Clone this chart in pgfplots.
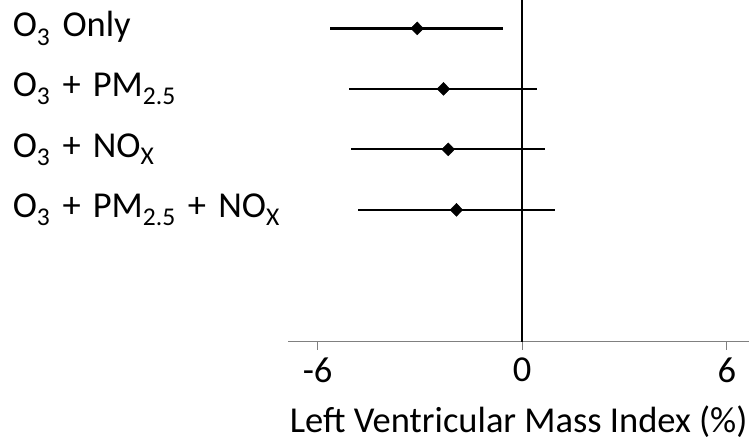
\documentclass[border=0pt]{standalone}
\usepackage{pgfplots}
\pgfplotsset{compat=1.18}
\usepackage{pgfplotstable}
\usepackage{fontspec}
\setmainfont{Carlito}

% row  est   lo    hi
\pgfplotstableread{
row est lo hi
4 -3.08 -5.63 -0.56
3 -2.31 -5.07 0.42
2 -2.17 -5.02 0.66
1 -1.93 -4.82 0.95
}\lvmi

\begin{document}
\begin{tikzpicture}
\begin{axis}[
  name=ax,
  scale only axis,
  width=460.7pt, height=341.7pt,
  xmin=-6.86, xmax=6.65,
  ymin=-1.18, ymax=4.47,
  axis x line*=bottom,
  axis y line*=left,
  y axis line style={draw=none},
  x axis line style={draw=gray, line width=1.3pt},
  xtick={-6,0,6},
  xticklabels={-6,0,6},
  xtick align=outside,
  major tick length=8pt,
  xtick style={draw=gray, line width=1.3pt},
  ytick={1,2,3,4},
  yticklabels={O\textsubscript{3} + PM\textsubscript{2.5} + NO\textsubscript{X},
               O\textsubscript{3} + NO\textsubscript{X},
               O\textsubscript{3} + PM\textsubscript{2.5},
               O\textsubscript{3} Only},
  ytick style={draw=none},
  yticklabel style={text width=272pt, align=left},
  ticklabel style={font=\fontsize{36.5}{42}\selectfont},
  xticklabel style={yshift=-5pt},
  xlabel={Left Ventricular Mass Index (\%)},
  xlabel style={font=\fontsize{36.5}{42}\selectfont, yshift=-16pt},
  clip=false,
]
\addplot[black, line width=2.3pt] coordinates {(0,-1.18) (0,4.47)};
\addplot[black, only marks, mark=diamond*, mark size=6.5pt,
         mark options={fill=black, xscale=1.3},
         error bars/.cd, x dir=both, x explicit, error mark=none,
         error bar style={line width=2.2pt, black}]
  table[x=est, y=row,
        x error plus expr=\thisrow{hi}-\thisrow{est},
        x error minus expr=\thisrow{est}-\thisrow{lo}] {\lvmi};
\end{axis}
\pgfresetboundingbox
\path[use as bounding box] ([xshift=-288.3pt, yshift=-102.3pt]ax.south west) rectangle (ax.north east);
\end{tikzpicture}
\end{document}
